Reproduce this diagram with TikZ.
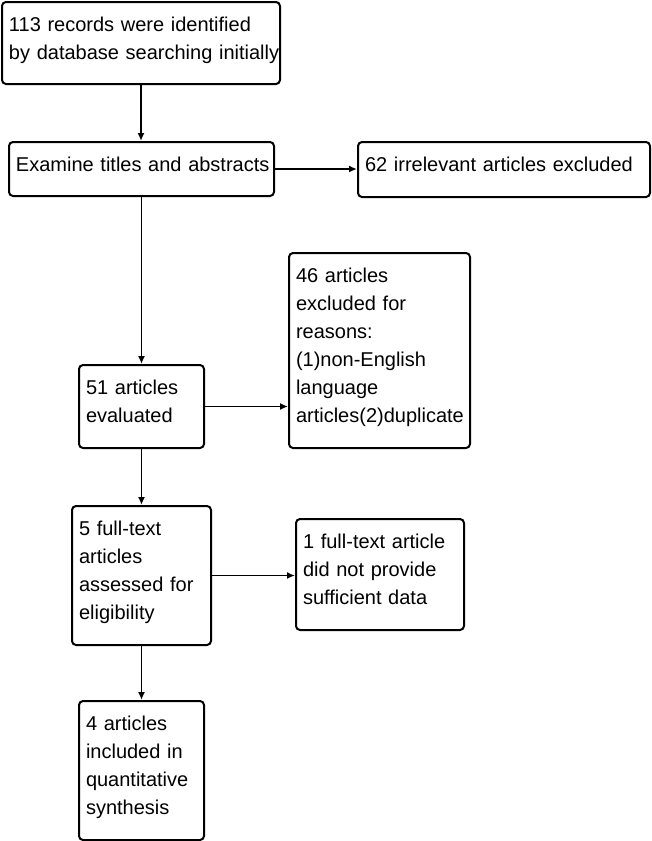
\documentclass[tikz,border=0pt]{standalone}
\usepackage{fontspec}
\setmainfont{Liberation Sans}
\usepackage{tikz}
\usetikzlibrary{arrows.meta}
\hyphenpenalty=10000
\exhyphenpenalty=10000
\tikzstyle{stage}=[draw, rounded corners=4pt, line width=2pt, anchor=north west, align=left, inner xsep=7pt, inner ysep=0pt, text height=29pt, font=\fontsize{20}{28}\selectfont]
\tikzstyle{flow}=[-{Latex[length=8pt,width=7pt]}, line width=1.8pt]
\newcommand{\stage}{\node[stage]}

\begin{document}
\begin{tikzpicture}[x=1pt,y=-1pt]
    \useasboundingbox (0,0) rectangle (652,841);
    \stage (b1) [text width=264pt, text depth=53pt] at (1,1) {113~records~were~identified\\by~database~searching~initially};
    \stage (b2) [text width=251pt, text depth=25pt] at (8,141) {Examine~titles~and~abstracts};
    \stage (b3) [text width=278pt, text depth=26pt] at (357,141) {62 irrelevant articles excluded};
    \stage (b4) [text width=111pt, text depth=54pt] at (78,364) {51 articles\\evaluated};
    \stage (b5) [text width=167pt, text depth=166pt] at (288,252) {46 articles\\excluded for\\reasons:\\(1)non-English\\language\\articles(2)duplicate};
    \stage (b6) [text width=125pt, text depth=110pt] at (71,505) {5 full-text\\articles\\assessed for\\eligibility};
    \stage (b7) [text width=154pt, text depth=82pt] at (295,518) {1 full-text article\\did not provide\\sufficient data};
    \stage (b8) [text width=111pt, text depth=110pt] at (78,700) {4 articles\\included in\\quantitative\\synthesis};
    \path[flow]
    (b1.south) edge (b1.south |- b2.north)
    (b2.east) edge (b2.east -| b3.west)
    (b2.south) edge (b2.south |- b4.north)
    (b4.east) edge (b4.east -| b5.west)
    (b4.south) edge (b4.south |- b6.north)
    (b6.east) edge (b6.east -| b7.west)
    (b6.south) edge (b6.south |- b8.north);
\end{tikzpicture}
\end{document}
